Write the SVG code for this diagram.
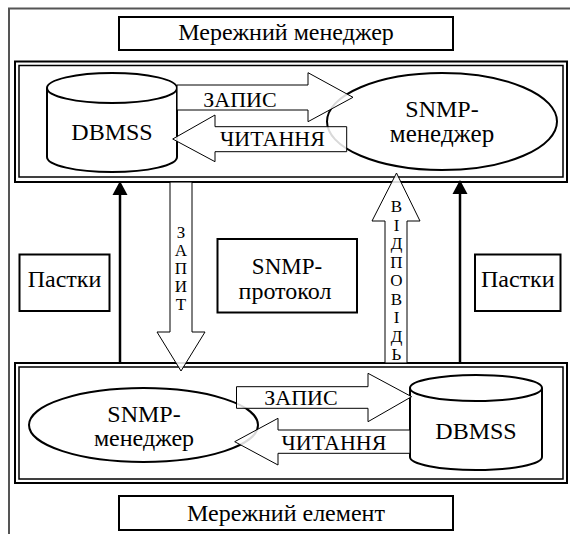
<svg xmlns="http://www.w3.org/2000/svg" width="570" height="534" viewBox="0 0 570 534">
<defs>
<style>
text{font-family:'Liberation Serif','Times New Roman',serif;fill:#000;text-anchor:middle}
.t{font-size:22px}
.b{font-size:24px}
.v{font-size:17px}
.box{fill:#fff;stroke:#000;stroke-width:2}
.fo{fill:none;stroke:#000;stroke-width:2}
.fi{fill:none;stroke:#000;stroke-width:1.5}
.shape{fill:#fff;stroke:#000;stroke-width:2}
.arr{fill:#fff;fill-opacity:0.85;stroke:#000;stroke-width:1}
.trap{stroke:#000;stroke-width:2.5;fill:none}
</style>
</defs>
<rect width="570" height="534" fill="#fff"/>
<path d="M9,534 L9,8.5 L570,8.5" fill="none" stroke="#555" stroke-width="2"/>
<g font-family="Liberation Serif">
<g id="title-manager"><rect class="box" x="119" y="17" width="334" height="33"/><text class="b" x="286" y="40">Мережний менеджер</text></g>
<g id="title-element"><rect class="box" x="119" y="496" width="334" height="34"/><text class="b" x="286" y="521">Мережний елемент</text></g>

<g id="frame-top"><rect class="fo" x="15" y="61.5" width="552" height="120.5"/><rect class="fi" x="19" y="65.5" width="544" height="111.5"/></g>
<g id="frame-bottom"><rect class="fo" x="15" y="363" width="552" height="120"/><rect class="fi" x="19" y="367" width="544" height="112"/></g>

<g id="db-top"><path class="shape" d="M47,157 L47,88 A65,15 0 0 1 177,88 L177,157 A65,15 0 0 1 47,157 Z M47,88 A65,15 0 0 0 177,88"/><text class="b" x="112" y="140">DBMSS</text></g>
<g id="mgr-top"><ellipse class="shape" cx="442" cy="121.5" rx="115" ry="48.5"/><text class="b" x="442" y="117">SNMP-</text><text class="t" x="442" y="142" style="font-size:25px">менеджер</text></g>

<g id="mgr-bottom"><ellipse class="shape" cx="143.5" cy="425" rx="114.5" ry="37"/><text class="b" x="144" y="422">SNMP-</text><text class="b" x="144" y="446">менеджер</text></g>
<g id="db-bottom"><path class="shape" d="M410,457 L410,388 A66,13 0 0 1 542,388 L542,457 A66,13 0 0 1 410,457 Z M410,388 A66,13 0 0 0 542,388"/><text class="b" x="476" y="439">DBMSS</text></g>

<g id="traps-left"><rect class="box" x="19.5" y="254.5" width="90" height="56.5"/><text class="b" x="64.5" y="287">Пастки</text></g>
<g id="traps-right"><rect class="box" x="475" y="254.5" width="85.5" height="56.5"/><text class="b" x="517.75" y="287">Пастки</text></g>
<g id="protocol"><rect class="box" x="217.5" y="239" width="139.5" height="73.5"/><text class="b" x="287" y="274" style="font-size:23px">SNMP-</text><text class="b" x="285" y="299">протокол</text></g>

<g id="connectors">
<polygon class="arr" points="177,85 308,85 308,72.7 353,97.3 308,121.7 308,110 177,110"/>
<text class="t" x="240" y="107">ЗАПИС</text>
<polygon class="arr" points="346.7,126.7 215,126.7 215,115 172.7,139 215,161.7 215,151.7 346.7,151.7"/>
<text class="t" x="272.5" y="146">ЧИТАННЯ</text>

<polygon class="arr" points="236.5,386.7 368,386.7 368,373.3 411.6,396.7 368,421.7 368,408.3 236.5,408.3"/>
<text class="t" x="301" y="405">ЗАПИС</text>
<polygon class="arr" points="410,430 278,430 278,418.3 234.7,441.7 278,465 278,453.3 410,453.3"/>
<text class="t" x="334" y="450">ЧИТАННЯ</text>

<polygon class="arr" points="170,182 192,182 192,332 205,332 181,371 157,332 170,332"/>
<g class="v"><text class="v" x="181" y="238">З</text><text class="v" x="181" y="256">А</text><text class="v" x="181" y="274">П</text><text class="v" x="181" y="292">И</text><text class="v" x="181" y="310">Т</text></g>

<polygon class="arr" points="385,363 385,221 372,221 396.5,173 420,221 407,221 407,363"/>
<g class="v"><text class="v" x="396.5" y="212">В</text><text class="v" x="396.5" y="230.5">І</text><text class="v" x="396.5" y="249">Д</text><text class="v" x="396.5" y="267.5">П</text><text class="v" x="396.5" y="286">О</text><text class="v" x="396.5" y="304.5">В</text><text class="v" x="396.5" y="323">І</text><text class="v" x="396.5" y="341.5">Д</text><text class="v" x="396.5" y="360">Ь</text></g>

<line class="trap" x1="120" y1="363" x2="120" y2="194"/>
<polygon points="112.5,195 127.5,195 120,181" fill="#000"/>
<line class="trap" x1="460" y1="363" x2="460" y2="193"/>
<polygon points="452.5,194 467.5,194 460,180" fill="#000"/>
</g>
</g>
</svg>
